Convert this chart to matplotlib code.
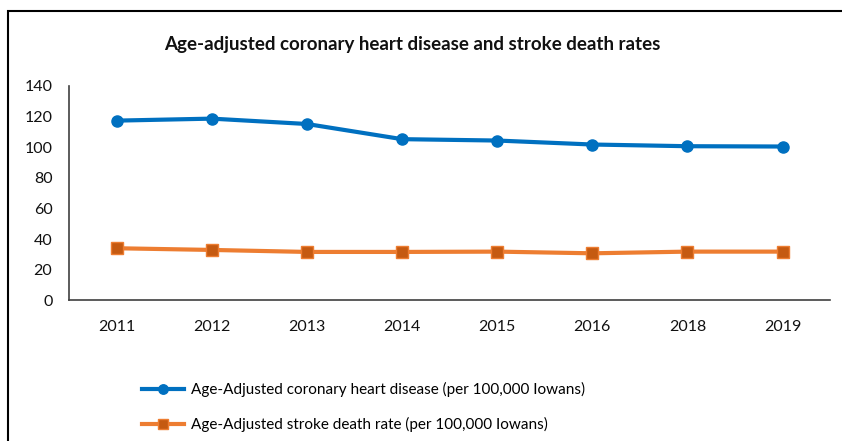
import numpy as np
import matplotlib.pyplot as plt
from matplotlib.patches import Rectangle

plt.rcParams['font.family'] = ['Lato', 'DejaVu Sans']

years = ['2011', '2012', '2013', '2014', '2015', '2016', '2018', '2019']
heart = [117.4, 118.7, 115.2, 105.3, 104.4, 101.8, 100.7, 100.5]
stroke = [34.1, 33.0, 31.7, 31.7, 31.9, 30.8, 31.9, 31.9]

heart_label = 'Age-Adjusted coronary heart disease (per 100,000 Iowans)'
stroke_label = 'Age-Adjusted stroke death rate (per 100,000 Iowans)'

fig = plt.figure(figsize=(8.42, 4.41), dpi=100)
ax = fig.add_axes([0.082, 0.3186, 0.904, 0.4864])

x = np.arange(len(years))
ax.plot(x, heart, '-o', color='#0070C0', linewidth=3, markersize=8,
        markerfacecolor='#0070C0', markeredgecolor='#0070C0', label=heart_label)
ax.plot(x, stroke, '-s', color='#ED7D31', linewidth=3, markersize=8,
        markerfacecolor='#C55A11', markeredgecolor='#ED7D31', label=stroke_label)

ax.set_xlim(-0.5, len(years) - 0.5)
ax.set_ylim(0, 140)
ax.set_yticks(np.arange(0, 141, 20))
ax.set_xticks(x)
ax.set_xticklabels(years)
ax.tick_params(length=0, labelsize=11.5, colors='#111111')
ax.tick_params(axis='x', pad=14)
ax.tick_params(axis='y', pad=12)
for s in ['top', 'right']:
    ax.spines[s].set_visible(False)
for s in ['left', 'bottom']:
    ax.spines[s].set_color('#404040')
    ax.spines[s].set_linewidth(1.2)

fig.text(0.49, 0.898, 'Age-adjusted coronary heart disease and stroke death rates',
         ha='center', va='center', fontsize=13.5, fontweight='bold', color='#111111')

fig.legend(loc='upper left', bbox_to_anchor=(0.169, 0.133), bbox_transform=fig.transFigure,
           frameon=False, fontsize=11, handlelength=2.7, handletextpad=0.5,
           labelspacing=1.3, borderaxespad=0, borderpad=0, markerscale=0.85)

# outer frame (cut off at right and bottom in the reference)
fig.patches.append(Rectangle((8 / 842, -0.1), 1.2, 1.1 - 11 / 441,
                             transform=fig.transFigure, fill=False,
                             edgecolor='black', linewidth=1.5))

plt.savefig('out.png', dpi=100)
